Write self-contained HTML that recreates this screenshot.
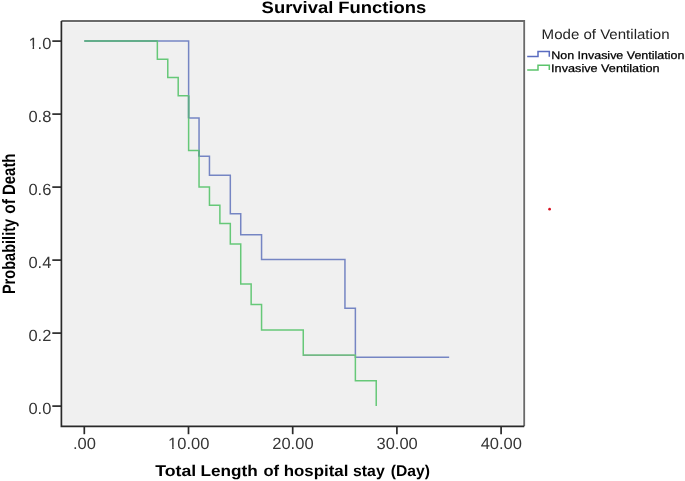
<!DOCTYPE html>
<html>
<head>
<meta charset="utf-8">
<style>
html,body{margin:0;padding:0;background:#fff;width:685px;height:481px;overflow:hidden}
svg{display:block;font-family:"Liberation Sans",sans-serif;will-change:transform}
</style>
</head>
<body>
<svg width="685" height="481" viewBox="0 0 685 481" text-rendering="geometricPrecision">
<rect x="0" y="0" width="685" height="481" fill="#ffffff"/>
<rect x="61.4" y="21.0" width="462.8" height="405.3" fill="#f0f0f0"/>
<rect x="62.8" y="22.4" width="460.0" height="402.5" fill="none" stroke="#f8f8f8" stroke-width="1"/>
<path d="M61.4 21.0 H524.2 V426.3" fill="none" stroke="#6a6a6a" stroke-width="1.8"/>
<path d="M61.4 21.0 V426.3 H524.2" fill="none" stroke="#2a2a2a" stroke-width="1.7"/>
<g stroke="#2a2a2a" stroke-width="1.7">
<path d="M52.3 41.1 H61.4"/><path d="M52.3 114.1 H61.4"/><path d="M52.3 187.1 H61.4"/><path d="M52.3 260.1 H61.4"/><path d="M52.3 333.1 H61.4"/><path d="M52.3 406.1 H61.4"/>
<path d="M84.3 426.3 V434.2"/><path d="M188.5 426.3 V434.2"/><path d="M292.7 426.3 V434.2"/><path d="M396.9 426.3 V434.2"/><path d="M501.1 426.3 V434.2"/>
</g>
<path d="M84.40 41.00 H188.62 V118.01 H199.04 V156.34 H209.46 V175.32 H230.31 V213.64 H240.73 V234.81 H261.57 V259.42 H344.95 V308.18 H355.37 V357.35 H449.17" fill="none" stroke="#7585c3" stroke-width="1.5"/>
<path d="M84.40 41.00 H157.35 V59.25 H167.78 V77.50 H178.20 V95.75 H188.62 V150.50 H199.04 V187.00 H209.46 V205.25 H219.89 V223.50 H230.31 V243.94 H240.73 V284.09 H251.15 V304.53 H261.57 V330.08 H303.26 V355.26 H355.37 V380.81 H376.22 V406.00" fill="none" stroke="#66c878" stroke-width="1.5"/>
<path d="M84.40 41.00 H157.35 M188.62 95.75 V118.01 M199.04 150.50 V156.34" fill="none" stroke="#5fa88a" stroke-width="1.5"/>
<path d="M303.26 355.26 H354.57" fill="none" stroke="#74b686" stroke-width="1.5"/>
<text transform="translate(261.6 13.3) scale(1.1160 1)" font-size="16.5" font-weight="bold" fill="#000">Survival Functions</text>
<g font-size="16.2" fill="#353535" text-anchor="end">
<text transform="translate(51.4 48.6) scale(1.02 1)">1.0</text>
<text transform="translate(51.4 121.6) scale(1.02 1)">0.8</text>
<text transform="translate(51.4 194.6) scale(1.02 1)">0.6</text>
<text transform="translate(51.4 267.6) scale(1.02 1)">0.4</text>
<text transform="translate(51.4 340.6) scale(1.02 1)">0.2</text>
<text transform="translate(51.4 413.6) scale(1.02 1)">0.0</text>
</g>
<g font-size="16.2" fill="#353535" text-anchor="middle">
<text transform="translate(84.5 449.4) scale(1.02 1)">.00</text>
<text transform="translate(188.7 449.4) scale(1.02 1)">10.00</text>
<text transform="translate(292.9 449.4) scale(1.02 1)">20.00</text>
<text transform="translate(397.1 449.4) scale(1.02 1)">30.00</text>
<text transform="translate(501.3 449.4) scale(1.02 1)">40.00</text>
</g>
<rect x="28.43" y="45.90" width="4.13" height="3.5" fill="#fff"/><rect x="34.10" y="45.90" width="3.26" height="3.5" fill="#fff"/><rect x="168.03" y="446.70" width="4.13" height="3.5" fill="#fff"/><rect x="173.70" y="446.70" width="3.26" height="3.5" fill="#fff"/>
<g font-size="14.7" font-weight="bold" fill="#000"><text transform="translate(155.24 475.6) scale(1.2049 1.06)">Total</text><text transform="translate(200.53 475.6) scale(1.1695 1.06)">Length</text><text transform="translate(263.4 475.6) scale(1.1268 1.06)">of</text><text transform="translate(283.7 475.6) scale(1.1479 1.06)">hospital</text><text transform="translate(353.02 475.6) scale(1.0794 1.06)">stay</text><text transform="translate(390.69 475.6) scale(1.0673 1.06)">(Day)</text></g>
<g font-size="14.7" font-weight="bold" fill="#000"><text transform="translate(14.5 294.09) rotate(-90) scale(0.9914 1.22)">Probability</text><text transform="translate(14.5 213.65) rotate(-90) scale(1.0545 1.22)">of</text><text transform="translate(14.5 195.02) rotate(-90) scale(1.0171 1.22)">Death</text></g>
<text transform="translate(541.6 38.7) scale(1.075 1)" font-size="14" fill="#222">Mode of Ventilation</text>
<path d="M527.2 56.5 H538 V51.6 H549.3 V56.8" fill="none" stroke="#5a6cc0" stroke-width="1.5"/>
<path d="M527.2 69.9 H538 V65.2 H549.3 V69.9" fill="none" stroke="#5cc46c" stroke-width="1.5"/>
<text transform="translate(551.2 58.6) scale(1.134 1)" font-size="11" fill="#000" stroke="#000" stroke-width="0.25">Non Invasive Ventilation</text>
<text transform="translate(551.1 71.6) scale(1.152 1)" font-size="11" fill="#000" stroke="#000" stroke-width="0.25">Invasive Ventilation</text>
<circle cx="549.6" cy="209.2" r="1.35" fill="#d81020"/>
</svg>
</body>
</html>
